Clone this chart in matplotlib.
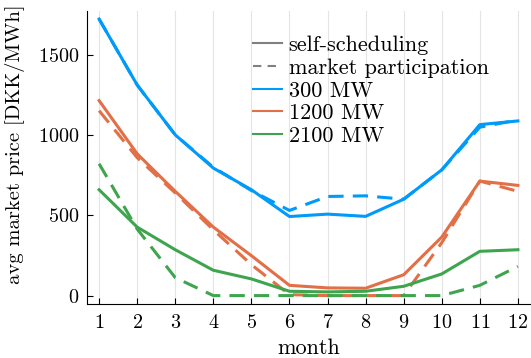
import matplotlib
matplotlib.use("Agg")
import matplotlib.pyplot as plt
from matplotlib.lines import Line2D

# monthly average market price [DKK/MWh] per installed capacity
months = list(range(1, 13))

self_300 = [1724, 1313, 1002, 795, 660, 493, 508, 494, 601, 784, 1066, 1089]
market_300 = [1724, 1313, 1002, 800, 655, 531, 618, 622, 601, 784, 1050, 1095]

self_1200 = [1216, 884, 650, 427, 249, 64, 48, 46, 130, 365, 714, 687]
market_1200 = [1153, 860, 640, 410, 193, 6, 0, 0, 0, 330, 714, 650]

self_2100 = [660, 427, 286, 158, 104, 27, 23, 27, 58, 135, 276, 286]
market_2100 = [822, 415, 112, 0, 0, 0, 0, 0, 0, 0, 64, 182]

series = [
    ("300 MW", "#009AFA", self_300, market_300),
    ("1200 MW", "#E36F47", self_1200, market_1200),
    ("2100 MW", "#3EA44E", self_2100, market_2100),
]

plt.rcParams.update({
    "font.family": "serif",
    "font.serif": ["cmr10", "DejaVu Serif"],
    "mathtext.fontset": "cm",
    "axes.formatter.use_mathtext": True,
    "font.size": 14.5,
})

fig = plt.figure(figsize=(5.31, 3.58), dpi=100)
ax = fig.add_axes([0.163, 0.151, 0.836, 0.819])

for name, color, solid, dashed in series:
    ax.plot(months, solid, color=color, lw=2.2, solid_joinstyle="round")
    ax.plot(months, dashed, color=color, lw=2.2, dashes=(5, 3))

ax.set_xlim(0.67, 12.33)
ax.set_ylim(-52, 1776)
ax.set_xticks(months)
ax.set_yticks([0, 500, 1000, 1500])
ax.set_xlabel("month", fontsize=16, labelpad=5)
ax.set_ylabel("avg market price [DKK/MWh]", fontsize=14.8)
ax.yaxis.set_label_coords(-0.138, 0.545)

ax.grid(axis="x", color="#e4e4e4", lw=0.8)
ax.set_axisbelow(True)
for side in ("top", "right"):
    ax.spines[side].set_visible(False)
ax.tick_params(direction="in", length=4, width=0.8)
ax.tick_params(axis="x", pad=7)
ax.tick_params(axis="y", pad=5)

handles = [
    Line2D([], [], color="gray", lw=1.5),
    Line2D([], [], color="gray", lw=1.5, dashes=(4, 3)),
] + [Line2D([], [], color=c, lw=1.5) for _, c, _, _ in series]
labels = ["self-scheduling", "market participation"] + [s[0] for s in series]
ax.legend(handles, labels, loc="upper left", bbox_to_anchor=(0.375, 0.915),
          frameon=False, handlelength=1.3, handletextpad=0.3,
          labelspacing=0.14, borderaxespad=0.0, borderpad=0.0, fontsize=16)

fig.savefig("out.png", dpi=100)
